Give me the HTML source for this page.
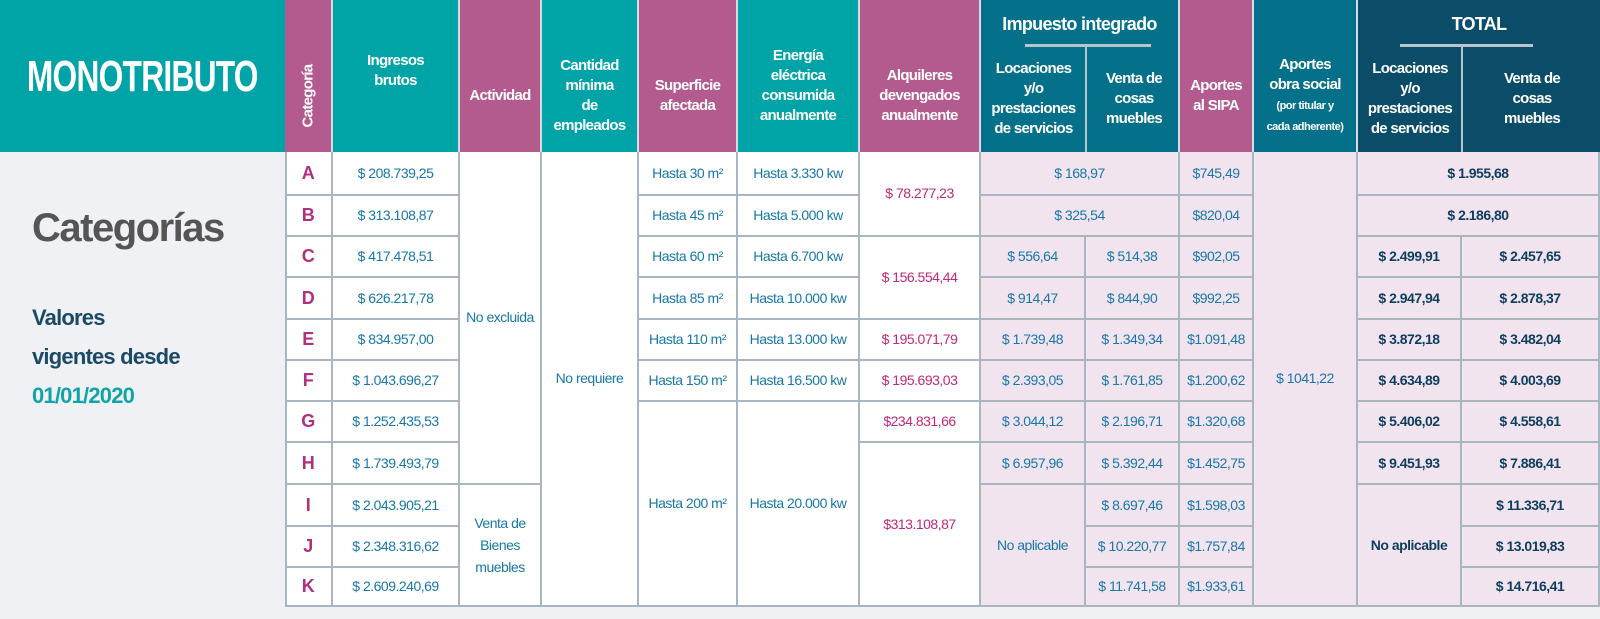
<!DOCTYPE html>
<html><head><meta charset="utf-8"><style>
body{margin:0;width:1600px;height:619px;background:#f0f1f4;position:relative;overflow:hidden;font-family:"Liberation Sans Narrow","Liberation Sans",sans-serif;}
.c{position:absolute;box-sizing:border-box;display:flex;align-items:center;justify-content:center;text-align:center;font-size:14px;line-height:19px;letter-spacing:-0.5px;white-space:nowrap;}
.h{color:#fff;font-weight:bold;font-size:15px;line-height:20px;letter-spacing:-0.7px;border-right:2px solid #d5dce2;top:0;height:152px;padding-top:40px;}
.tl{background:#00a3a6}.mg{background:#b35b8e}.dt{background:#05708a}.dk{background:#0b4d69}
.b{background:#fff;border-right:2px solid #a7b6c0;border-bottom:2px solid #a7b6c0;color:#1677a8}
.p{background:#f2e4ee;border-right:2px solid #a7b6c0;border-bottom:2px solid #a7b6c0;color:#1677a8}
.m{color:#c0287a}
.t{color:#0d3e5e;font-weight:bold}
.L{color:#b0307e;font-weight:bold;font-size:18px}
.cat{left:285px;width:48px}.ing{left:333px;width:127px}.act{left:460px;width:82px}.can{left:542px;width:97px}
.sup{left:639px;width:99px}.ene{left:738px;width:122px}.alq{left:860px;width:121px}.loc{left:981px;width:105px}
.ven{left:1086px;width:94px}.sip{left:1180px;width:74px}.obr{left:1254px;width:104px}.tlc{left:1358px;width:104px}.tvc{left:1462px;width:138px}
.lv{left:981px;width:199px}.tt{left:1358px;width:242px}
.A{top:152px;height:44px}.B{top:196px;height:41px}.C{top:237px;height:41px}.D{top:278px;height:42px}.E{top:320px;height:41px}.F{top:361px;height:41px}.G{top:402px;height:41px}.H{top:443px;height:42px}.I{top:485px;height:42px}.J{top:527px;height:41px}.K{top:568px;height:39px}
.sq{display:inline-block;transform:scaleX(0.78)}
</style></head><body>
<div class="c tl" style="left:0;top:0;width:285px;height:152px;color:#fff;font-weight:bold;font-size:44px;letter-spacing:-1px"><span class="sq" style="transform:scaleX(0.72)">MONOTRIBUTO</span></div>
<div style="position:absolute;left:32px;top:206px;font-size:40px;color:#555;font-weight:bold;letter-spacing:-1.5px">Categorías</div>
<div style="position:absolute;left:32px;top:298px;font-size:22px;line-height:39px;color:#1b4a66;font-weight:bold;letter-spacing:-0.8px">Valores<br>vigentes desde<br><span style="color:#12a3a6">01/01/2020</span></div>

<div class="c h mg" style="left:285px;width:48px;padding:0"><span style="transform:rotate(-90deg);display:block;white-space:nowrap;margin-top:40px">Categoría</span></div>
<div class="c h tl ing" style="padding-top:0;padding-bottom:10px">Ingresos<br>brutos</div>
<div class="c h mg act">Actividad</div>
<div class="c h tl can">Cantidad<br>mínima<br>de<br>empleados</div>
<div class="c h mg sup">Superficie<br>afectada</div>
<div class="c h tl ene" style="padding-top:20px">Energía<br>eléctrica<br>consumida<br>anualmente</div>
<div class="c h mg alq">Alquileres<br>devengados<br>anualmente</div>
<div class="c h dt lv" style="align-items:flex-start;padding-top:14px;font-size:18px">Impuesto integrado</div>
<div style="position:absolute;left:1025px;top:44px;width:126px;height:3px;background:#b8c4cc"></div>
<div style="position:absolute;left:1085px;top:46px;width:2px;height:106px;background:#b8c4cc"></div>
<div class="c h loc" style="top:46px;height:106px;padding-top:0;border:none">Locaciones<br>y/o<br>prestaciones<br>de servicios</div>
<div class="c h ven" style="top:46px;height:106px;padding-top:0;border:none;left:1087px">Venta de<br>cosas<br>muebles</div>
<div class="c h mg sip">Aportes<br>al SIPA</div>
<div class="c h dt obr"><div>Aportes<br>obra social<br><span style="font-size:11px;letter-spacing:-0.5px">(por titular y<br>cada adherente)</span></div></div>
<div class="c h dk tt" style="align-items:flex-start;padding-top:14px;font-size:18px;border:none">TOTAL</div>
<div style="position:absolute;left:1400px;top:44px;width:133px;height:3px;background:#b8c4cc"></div>
<div style="position:absolute;left:1461px;top:46px;width:2px;height:106px;background:#b8c4cc"></div>
<div class="c h tlc" style="top:46px;height:106px;padding-top:0;border:none">Locaciones<br>y/o<br>prestaciones<br>de servicios</div>
<div class="c h tvc" style="top:46px;height:106px;padding-top:0;border:none;left:1463px">Venta de<br>cosas<br>muebles</div>

<div class="c b L cat A">A</div><div class="c b L cat B">B</div><div class="c b L cat C">C</div><div class="c b L cat D">D</div><div class="c b L cat E">E</div><div class="c b L cat F">F</div><div class="c b L cat G">G</div><div class="c b L cat H">H</div><div class="c b L cat I">I</div><div class="c b L cat J">J</div><div class="c b L cat K">K</div>
<div class="c b ing A">$ 208.739,25</div><div class="c b ing B">$ 313.108,87</div><div class="c b ing C">$ 417.478,51</div><div class="c b ing D">$ 626.217,78</div><div class="c b ing E">$ 834.957,00</div><div class="c b ing F">$ 1.043.696,27</div><div class="c b ing G">$ 1.252.435,53</div><div class="c b ing H">$ 1.739.493,79</div><div class="c b ing I">$ 2.043.905,21</div><div class="c b ing J">$ 2.348.316,62</div><div class="c b ing K">$ 2.609.240,69</div>
<div class="c b act" style="top:152px;height:333px">No excluida</div>
<div class="c b act" style="top:485px;height:122px;line-height:22px">Venta de<br>Bienes<br>muebles</div>
<div class="c b can" style="top:152px;height:455px">No requiere</div>
<div class="c b sup A">Hasta 30 m²</div><div class="c b sup B">Hasta 45 m²</div><div class="c b sup C">Hasta 60 m²</div><div class="c b sup D">Hasta 85 m²</div><div class="c b sup E">Hasta 110 m²</div><div class="c b sup F">Hasta 150 m²</div>
<div class="c b sup" style="top:402px;height:205px">Hasta 200 m²</div>
<div class="c b ene A">Hasta 3.330 kw</div><div class="c b ene B">Hasta 5.000 kw</div><div class="c b ene C">Hasta 6.700 kw</div><div class="c b ene D">Hasta 10.000 kw</div><div class="c b ene E">Hasta 13.000 kw</div><div class="c b ene F">Hasta 16.500 kw</div>
<div class="c b ene" style="top:402px;height:205px">Hasta 20.000 kw</div>
<div class="c b m alq" style="top:152px;height:85px">$ 78.277,23</div>
<div class="c b m alq" style="top:237px;height:83px">$ 156.554,44</div>
<div class="c b m alq E">$ 195.071,79</div><div class="c b m alq F">$ 195.693,03</div><div class="c b m alq G">$234.831,66</div>
<div class="c b m alq" style="top:443px;height:164px">$313.108,87</div>
<div class="c p lv A">$ 168,97</div><div class="c p lv B">$ 325,54</div>
<div class="c p loc C">$ 556,64</div><div class="c p loc D">$ 914,47</div><div class="c p loc E">$ 1.739,48</div><div class="c p loc F">$ 2.393,05</div><div class="c p loc G">$ 3.044,12</div><div class="c p loc H">$ 6.957,96</div>
<div class="c p loc" style="top:485px;height:122px">No aplicable</div>
<div class="c p ven C">$ 514,38</div><div class="c p ven D">$ 844,90</div><div class="c p ven E">$ 1.349,34</div><div class="c p ven F">$ 1.761,85</div><div class="c p ven G">$ 2.196,71</div><div class="c p ven H">$ 5.392,44</div><div class="c p ven I">$ 8.697,46</div><div class="c p ven J">$ 10.220,77</div><div class="c p ven K">$ 11.741,58</div>
<div class="c p sip A">$745,49</div><div class="c p sip B">$820,04</div><div class="c p sip C">$902,05</div><div class="c p sip D">$992,25</div><div class="c p sip E">$1.091,48</div><div class="c p sip F">$1.200,62</div><div class="c p sip G">$1.320,68</div><div class="c p sip H">$1.452,75</div><div class="c p sip I">$1.598,03</div><div class="c p sip J">$1.757,84</div><div class="c p sip K">$1.933,61</div>
<div class="c p obr" style="top:152px;height:455px">$ 1041,22</div>
<div class="c p t tt A">$ 1.955,68</div><div class="c p t tt B">$ 2.186,80</div>
<div class="c p t tlc C">$ 2.499,91</div><div class="c p t tlc D">$ 2.947,94</div><div class="c p t tlc E">$ 3.872,18</div><div class="c p t tlc F">$ 4.634,89</div><div class="c p t tlc G">$ 5.406,02</div><div class="c p t tlc H">$ 9.451,93</div>
<div class="c p t tlc" style="top:485px;height:122px">No aplicable</div>
<div class="c p t tvc C">$ 2.457,65</div><div class="c p t tvc D">$ 2.878,37</div><div class="c p t tvc E">$ 3.482,04</div><div class="c p t tvc F">$ 4.003,69</div><div class="c p t tvc G">$ 4.558,61</div><div class="c p t tvc H">$ 7.886,41</div><div class="c p t tvc I">$ 11.336,71</div><div class="c p t tvc J">$ 13.019,83</div><div class="c p t tvc K">$ 14.716,41</div>
<div style="position:absolute;left:285px;top:152px;width:2px;height:455px;background:#a7b6c0"></div>
</body></html>
